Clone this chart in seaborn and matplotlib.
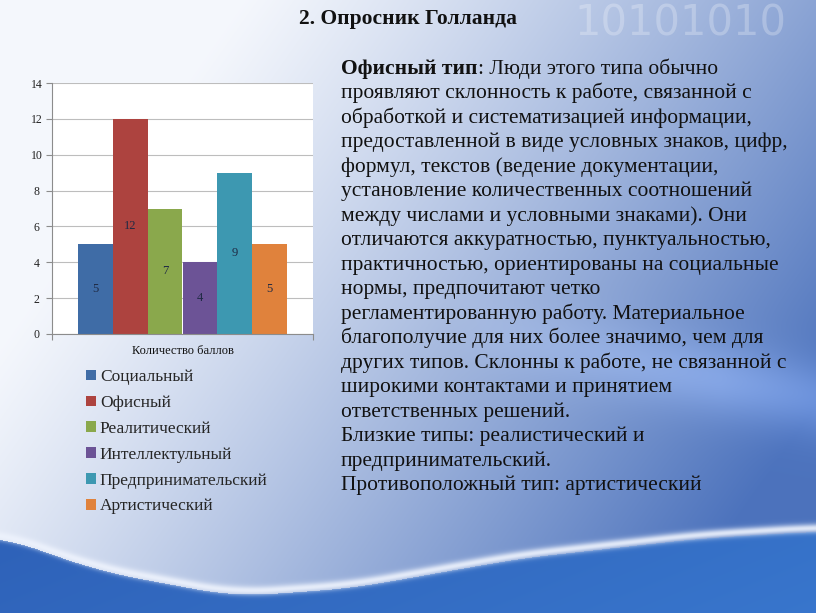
import numpy as np
import pandas as pd
import matplotlib
matplotlib.use("Agg")
import matplotlib.pyplot as plt
import seaborn as sns
from matplotlib.patches import Patch

# ---------------- data ----------------
categories = ["Количество баллов"]
series = ["Социальный", "Офисный", "Реалитический", "Интеллектульный",
          "Предпринимательский", "Артистический"]
values = [5, 12, 7, 4, 9, 5]
colors = ["#3f6ca6", "#ad433f", "#8aa84c", "#6c5396", "#3d98b1", "#e0823c"]
y_ticks = [0, 2, 4, 6, 8, 10, 12, 14]

title = "2. Опросник Голланда"
text_bold = "Офисный тип"
text_lines = [
    ": Люди этого типа обычно",
    "проявляют склонность к работе, связанной с",
    "обработкой и систематизацией информации,",
    "предоставленной в виде условных знаков, цифр,",
    "формул, текстов (ведение документации,",
    "установление количественных соотношений",
    "между числами и условными знаками). Они",
    "отличаются аккуратностью, пунктуальностью,",
    "практичностью, ориентированы на социальные",
    "нормы, предпочитают четко",
    "регламентированную работу. Материальное",
    "благополучие для них более значимо, чем для",
    "других типов. Склонны к работе, не связанной с",
    "широкими контактами и принятием",
    "ответственных решений.",
    "Близкие типы: реалистический и",
    "предпринимательский.",
    "Противоположный тип: артистический",
]

sns.set_theme(style="white")
SERIF = ['Liberation Serif', 'DejaVu Serif']
plt.rcParams['font.family'] = SERIF

W, H = 816, 613
fig = plt.figure(figsize=(W / 100, H / 100), dpi=100)

# ---------------- background (slide decoration) ----------------
yy, xx = np.mgrid[0:H, 0:W].astype(float)
u, v = xx / W, yy / H
light = np.array([0.96, 0.97, 0.99])
mid = np.array([0.30, 0.45, 0.74])
f = np.clip(0.95 * u + 0.5 * v - 0.28, 0, 1) ** 1.15
bg = light[None, None, :] * (1 - f[..., None]) + mid[None, None, :] * f[..., None]
streak = np.exp(-((v - 0.55 - 0.25 * (u - 0.6)) / 0.06) ** 2) * np.clip((u - 0.55) * 3, 0, 1) * 0.12
bg = np.clip(bg + streak[..., None], 0, 1)
cx = np.array([0, 100, 234, 350, 520, 700, 816])
cy = np.array([530, 565, 590, 582, 552, 532, 525])
curve = np.interp(np.arange(W), cx, cy)
curve = np.convolve(np.pad(curve, 40, mode='edge'), np.ones(81) / 81, mode='same')[40:-40]
d = yy - curve[None, :]
blue_low = np.array([0.18, 0.38, 0.72])
blue_low2 = np.array([0.22, 0.46, 0.80])
below = (d > 6)
g = np.clip(u * 0.8 + (v - 0.85) * 1.5, 0, 1)
lowcol = blue_low[None, None, :] * (1 - g[..., None]) + blue_low2[None, None, :] * g[..., None]
bg = np.where(below[..., None], lowcol, bg)
band = np.exp(-((d - 2) / 4.5) ** 2) * 0.9
bg = bg * (1 - band[..., None]) + band[..., None] * np.array([0.93, 0.95, 0.99])
bg_ax = fig.add_axes([0, 0, 1, 1], zorder=0)
bg_ax.imshow(bg, extent=[0, W, H, 0], aspect='auto', interpolation='bilinear')
bg_ax.set_xlim(0, W)
bg_ax.set_ylim(H, 0)
bg_ax.axis('off')
bg_ax.text(574, 36, "10101010", fontsize=30, family='DejaVu Sans', color='white',
           alpha=0.25, va='baseline', ha='left', clip_on=True)

# ---------------- chart ----------------
ax = fig.add_axes([52 / W, 1 - 334 / H, (313 - 52) / W, (334 - 83) / H], zorder=2)
ax.set_facecolor('white')
df = pd.DataFrame({"category": categories * len(series),
                   "series": series, "value": values})
sns.barplot(data=df, x="category", y="value", hue="series", hue_order=series,
            palette=colors, width=0.8, saturation=1, ax=ax, legend=False,
            linewidth=0, edgecolor='none')
for cont in ax.containers:
    ax.bar_label(cont, label_type='center', fontsize=9, color='#1f2a44')
ax.set_ylim(0, 14)
ax.set_xlim(-0.5, 0.5)
ax.set_yticks(y_ticks)
ax.yaxis.grid(True, color='#bdbdbd', lw=0.8)
ax.set_axisbelow(True)
for s in ['top', 'right']:
    ax.spines[s].set_visible(False)
for s in ['left', 'bottom']:
    ax.spines[s].set_color('#8c8c8c')
    ax.spines[s].set_linewidth(0.8)
ax.tick_params(axis='y', length=4, width=0.8, color='#8c8c8c', labelsize=8.5,
               labelcolor='#222222', pad=7, left=True)
for lab in ax.get_yticklabels():
    lab.set_horizontalalignment('center')
ax.tick_params(axis='x', length=0, labelsize=9, labelcolor='#111111', pad=8)
ax.set_xticks([-0.5, 0.5], minor=True)
ax.tick_params(axis='x', which='minor', length=4, width=0.8, color='#8c8c8c', bottom=True)
ax.set_xlabel("")
ax.set_ylabel("")

# legend
handles = [Patch(facecolor=c, edgecolor='none') for c in colors]
fig.legend(handles, series, loc='upper left', bbox_to_anchor=(86 / W, 1 - 369 / H),
           frameon=False, fontsize=12.5, handlelength=0.55, handleheight=0.55,
           handletextpad=0.25, labelspacing=0.57, borderaxespad=0, borderpad=0)

# ---------------- text ----------------
fig.text(408 / W, 1 - 24 / H, title, ha='center', va='baseline', fontsize=15.5,
         fontweight='bold', color='#111111', family=SERIF)

fs = 15.5
x0 = 341
base0 = 74
step = 24.47
renderer = fig.canvas.get_renderer()
tb = fig.text(x0 / W, 1 - base0 / H, text_bold, ha='left', va='baseline',
              fontsize=fs, fontweight='bold', color='#111111', family=SERIF)
bb = tb.get_window_extent(renderer=renderer)
for i, line in enumerate(text_lines):
    xpos = bb.x1 / W if i == 0 else x0 / W
    fig.text(xpos, 1 - (base0 + i * step) / H, line, ha='left', va='baseline',
             fontsize=fs, color='#111111', family=SERIF)

fig.savefig("out.png", dpi=100)
